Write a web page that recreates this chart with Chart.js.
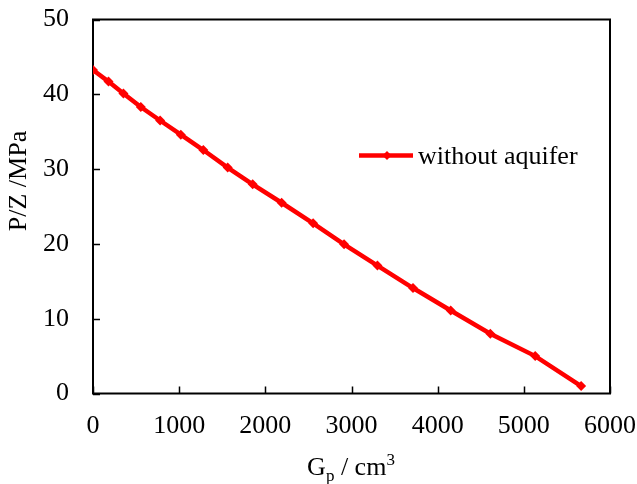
<!DOCTYPE html>
<html>
<head>
<meta charset="utf-8">
<script src="https://cdn.jsdelivr.net/npm/chart.js@4.4.1/dist/chart.umd.min.js"></script>
<style>
  html, body { margin: 0; padding: 0; background: #fff; }
  #wrap { width: 637px; height: 484px; }
</style>
</head>
<body>
<div id="wrap"><canvas id="pzChart" width="637" height="484"></canvas></div>
<script>
// data
const gpValues = [0, 180, 353, 555, 779, 1019, 1280, 1563, 1853, 2189, 2555, 2914, 3301, 3714, 4151, 4611, 5132, 5665];
const pzValues = [43.25, 41.7, 40.1, 38.3, 36.5, 34.6, 32.55, 30.2, 27.97, 25.5, 22.75, 19.95, 17.1, 14.1, 11.1, 8.0, 5.0, 1.0];
const seriesLabel = "without aquifer";
const xTicks = [0, 1000, 2000, 3000, 4000, 5000, 6000];
const yTicks = [0, 10, 20, 30, 40, 50];

const serif = "'Liberation Serif', 'Times New Roman', serif";
const red = "#ff0000";

// no automatic padding from label overflow, the chart area comes from layout.padding
function noScalePadding(s) {
  s.paddingLeft = 0;
  s.paddingRight = 0;
  s.paddingTop = 0;
  s.paddingBottom = 0;
}

// frame, inside tick marks, axis titles and legend
const decorPlugin = {
  id: "decor",
  beforeDatasetsDraw(chart) {
    const c = chart.ctx;
    const a = chart.chartArea;
    const xs = chart.scales.x;
    const ys = chart.scales.y;
    c.save();
    c.strokeStyle = "#000";
    c.lineWidth = 2;
    c.strokeRect(a.left, a.top, a.right - a.left, a.bottom - a.top);
    c.lineWidth = 1.5;
    c.beginPath();
    xTicks.forEach(function (t) {
      const px = Math.round(xs.getPixelForValue(t)) + 0.5;
      c.moveTo(px, a.bottom);
      c.lineTo(px, a.bottom - 7);
    });
    yTicks.forEach(function (t) {
      const py = Math.round(ys.getPixelForValue(t)) + 0.5;
      c.moveTo(a.left, py);
      c.lineTo(a.left + 7, py);
    });
    c.stroke();
    c.restore();
  },
  afterDraw(chart) {
    const c = chart.ctx;
    c.save();
    c.fillStyle = "#000";
    c.textBaseline = "alphabetic";

    // x title: G_p / cm^3
    const big = "26px " + serif;
    const small = "17px " + serif;
    const parts = [
      { t: "G", f: big, dy: 0 },
      { t: "p", f: small, dy: 6 },
      { t: " / cm", f: big, dy: 0 },
      { t: "3", f: small, dy: -10 }
    ];
    let total = 0;
    parts.forEach(function (p) { c.font = p.f; total += c.measureText(p.t).width; });
    let x = 351 - total / 2;
    parts.forEach(function (p) {
      c.font = p.f;
      c.textAlign = "left";
      c.fillText(p.t, x, 475 + p.dy);
      x += c.measureText(p.t).width;
    });

    // y title
    c.save();
    c.translate(26, 181);
    c.rotate(-Math.PI / 2);
    c.font = big;
    c.textAlign = "center";
    c.fillText("P/Z /MPa", 0, 0);
    c.restore();

    // legend
    const ly = 155.5;
    c.strokeStyle = red;
    c.lineWidth = 4.5;
    c.beginPath();
    c.moveTo(359, ly);
    c.lineTo(413, ly);
    c.stroke();
    c.fillStyle = red;
    c.beginPath();
    c.moveTo(387, ly - 4.5);
    c.lineTo(391.5, ly);
    c.lineTo(387, ly + 4.5);
    c.lineTo(382.5, ly);
    c.closePath();
    c.fill();
    c.fillStyle = "#000";
    c.font = "26px " + serif;
    c.textAlign = "left";
    c.fillText(seriesLabel, 418, 164);
    c.restore();
  }
};

const data = {
  datasets: [
    {
      label: seriesLabel,
      data: gpValues.map(function (g, i) { return { x: g, y: pzValues[i] }; }),
      showLine: true,
      borderColor: red,
      backgroundColor: red,
      borderWidth: 4.5,
      pointStyle: "rectRot",
      pointRadius: 5,
      pointBorderWidth: 0,
      tension: 0
    }
  ]
};

const config = {
  type: "scatter",
  data: data,
  options: {
    responsive: false,
    animation: false,
    layout: { padding: { top: 19.5, right: 27, left: 0, bottom: 0 } },
    plugins: { legend: { display: false }, tooltip: { enabled: false } },
    scales: {
      x: {
        type: "linear",
        min: 0,
        max: 6000,
        afterBuildTicks: function (s) { s.ticks = xTicks.map(function (v) { return { value: v }; }); },
        afterFit: function (s) { s.height = 90.5; noScalePadding(s); },
        grid: { display: false },
        border: { display: false },
        ticks: {
          color: "#000",
          padding: 9,
          maxRotation: 0,
          font: { family: serif, size: 26 },
          callback: function (v) { return String(v); }
        }
      },
      y: {
        min: 0,
        max: 50,
        afterBuildTicks: function (s) { s.ticks = yTicks.map(function (v) { return { value: v }; }); },
        afterFit: function (s) { s.width = 93; noScalePadding(s); },
        grid: { display: false },
        border: { display: false },
        ticks: {
          color: "#000",
          padding: 16,
          font: { family: serif, size: 26 },
          callback: function (v) { return String(v); }
        }
      }
    }
  },
  plugins: [decorPlugin]
};

const pzChart = new Chart(document.getElementById("pzChart"), config);
</script>
</body>
</html>
